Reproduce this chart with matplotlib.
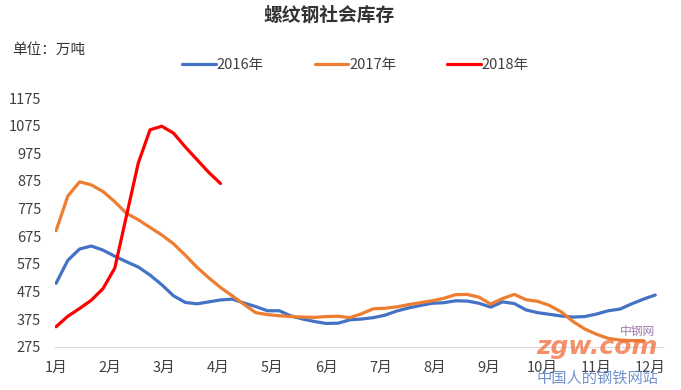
import matplotlib
matplotlib.use('Agg')
from matplotlib import pyplot as plt
import numpy as np

plt.rcParams['font.family'] = ['Noto Sans CJK SC', 'DejaVu Sans']

months = ['1月', '2月', '3月', '4月', '5月', '6月', '7月', '8月', '9月', '10月', '11月', '12月']

# weekly social inventory, 10k tonnes
inv2016 = [505, 588, 629, 640, 625, 603, 583, 564, 535, 500,
           460, 436, 431, 438, 445, 448, 434, 421, 406, 406,
           387, 376, 367, 360, 361, 373, 376, 381, 390, 405,
           416, 425, 433, 435, 442, 441, 433, 419, 438, 432,
           409, 399, 393, 387, 383, 385, 394, 406, 412, 431,
           448, 463]
inv2017 = [695, 820, 872, 861, 837, 800, 758, 735, 707, 680,
           648, 607, 563, 525, 490, 460, 429, 399, 392, 388,
           385, 383, 382, 385, 386, 381, 395, 413, 415, 420,
           428, 435, 442, 451, 464, 465, 455, 430, 450, 465,
           446, 440, 425, 402, 367, 340, 321, 306, 300, 298,
           298]
inv2018 = [348, 386, 414, 444, 486, 560, 750, 940, 1060, 1073,
           1048, 998, 952, 906, 866]

yticks = [275, 375, 475, 575, 675, 775, 875, 975, 1075, 1175]

fig = plt.figure(figsize=(6.81, 3.90), dpi=100)
ax = fig.add_axes([0.0808, 0.1103, 0.8928, 0.6384])

ax.plot(np.arange(len(inv2016)), inv2016, color='#4472C4', lw=2.3, label='2016年', solid_capstyle='round')
ax.plot(np.arange(len(inv2017)), inv2017, color='#ED7D31', lw=2.3, label='2017年', solid_capstyle='round')
ax.plot(np.arange(len(inv2018)), inv2018, color='#FF0000', lw=2.3, label='2018年', solid_capstyle='round')

ax.set_ylim(275, 1175)
ax.set_xlim(-0.085, 51.66)
ax.set_yticks(yticks)
ax.set_xticks(np.arange(12) * 4.6)
ax.set_xticklabels(months)
ax.tick_params(axis='both', length=0, labelsize=10.5, colors='#404040')
ax.tick_params(axis='y', pad=10)
ax.tick_params(axis='x', pad=10)
for s in ['top', 'right', 'left']:
    ax.spines[s].set_visible(False)
ax.spines['bottom'].set_color('#d9d9d9')

fig.text(0.483, 0.962, '螺纹钢社会库存', ha='center', va='center', fontsize=13.5,
         fontweight='bold', color='#333333')
fig.text(0.018, 0.872, '单位：万吨', ha='left', va='center', fontsize=10.5, color='#333333')

fig.legend(loc='center', bbox_to_anchor=(0.522, 0.833), ncol=3, frameon=False,
           fontsize=10.5, handlelength=2.3, handletextpad=0.05, columnspacing=3.5,
           labelcolor='#404040')

# watermark
fig.text(0.787, 0.11, 'zgw.com', ha='left', va='center', fontsize=18, fontweight='bold',
         style='italic', color='#F26B3A', alpha=0.75, family='DejaVu Sans')
fig.text(0.91, 0.15, '中钢网', ha='left', va='center', fontsize=8.5, color='#8a5a9a', alpha=0.8)
fig.text(0.788, 0.03, '中国人的钢铁网站', ha='left', va='center', fontsize=11, color='#5b80c4', alpha=0.85)

fig.savefig('out.png', dpi=100, facecolor='white')
